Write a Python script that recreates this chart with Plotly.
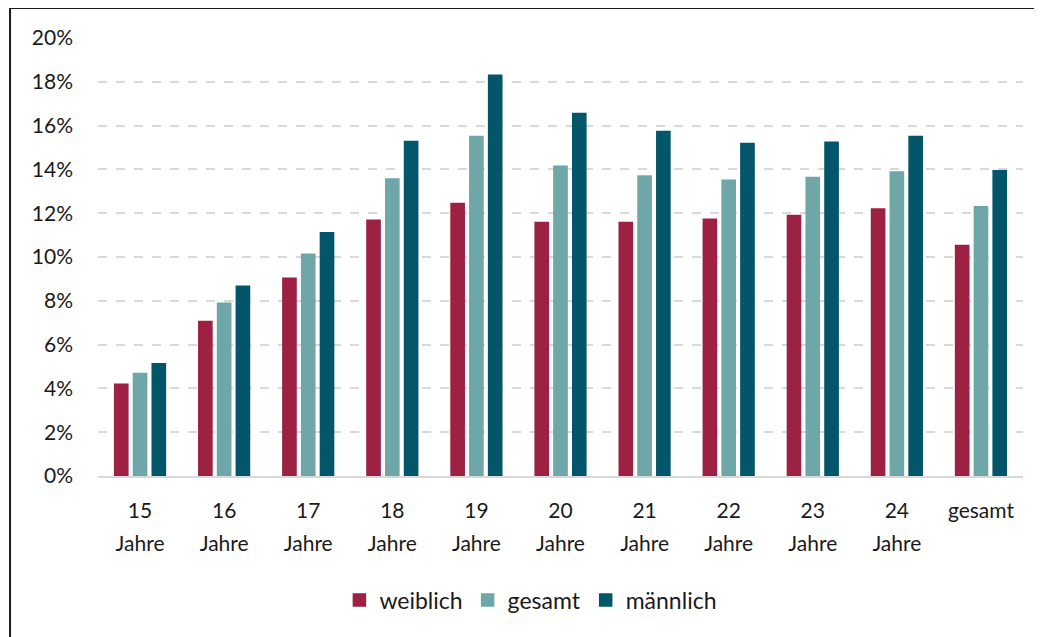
import plotly.graph_objects as go

categories = ["15<br>Jahre", "16<br>Jahre", "17<br>Jahre", "18<br>Jahre", "19<br>Jahre",
              "20<br>Jahre", "21<br>Jahre", "22<br>Jahre", "23<br>Jahre", "24<br>Jahre", "gesamt"]
weiblich = [4.19, 7.05, 9.03, 11.68, 12.44, 11.57, 11.57, 11.72, 11.90, 12.19, 10.53]
gesamt = [4.68, 7.89, 10.12, 13.56, 15.50, 14.14, 13.70, 13.50, 13.63, 13.88, 12.30]
maennlich = [5.13, 8.66, 11.11, 15.27, 18.30, 16.55, 15.73, 15.18, 15.24, 15.50, 13.94]
y_ticks = [0, 2, 4, 6, 8, 10, 12, 14, 16, 18, 20]

series = [("weiblich", weiblich, "#9c2143"),
          ("gesamt", gesamt, "#6fa6a8"),
          ("männlich", maennlich, "#03566a")]

FONT = "Lato, 'Open Sans', sans-serif"
SMALL = 21

def tick(t):
    parts = t.split("<br>")
    return "<br>".join(f"<span style='font-size:{SMALL}px'>{p}</span>" for p in parts)

fig = go.Figure()
for name, vals, color in series:
    fig.add_trace(go.Bar(
        x=list(range(len(categories))), y=vals, name=name,
        marker=dict(color=color, line=dict(width=1.5, color=color)),
    ))

fig.update_layout(
    width=1034, height=629,
    margin=dict(l=90, r=19, t=30, b=161),
    paper_bgcolor="white", plot_bgcolor="white",
    barmode="group", bargap=0.33, bargroupgap=0.30,
    font=dict(family=FONT, size=SMALL, color="#1a1a1a"),
    showlegend=True,
    legend=dict(orientation="h", x=0.468, xanchor="center", y=-0.283, yanchor="middle",
                font=dict(size=23), itemclick=False, traceorder="normal"),
    xaxis=dict(
        tickmode="array", tickvals=list(range(len(categories))),
        ticktext=[tick(c) for c in categories],
        tickfont=dict(size=25),
        range=[-0.5, len(categories) - 0.5],
        showline=True, linecolor="#d9d9d9", linewidth=2,
        showgrid=False, ticks="", ticklabelstandoff=10,
    ),
    yaxis=dict(
        range=[0, 20], tickmode="array", tickvals=y_ticks,
        ticktext=[f"{v}%" for v in y_ticks],
        showgrid=True, gridcolor="#d9d9d9", gridwidth=1.5, griddash="dash",
        zeroline=False, showline=False, ticks="", ticklabelstandoff=24,
        tickfont=dict(size=SMALL),
    ),
    shapes=[dict(type="rect", xref="paper", yref="paper",
                 x0=-0.0951, x1=1.05, y0=1.0685, y1=-0.45,
                 line=dict(color="#1a1a1a", width=2), fillcolor="rgba(0,0,0,0)",
                 layer="above")],
)

fig.write_html("out.html")
